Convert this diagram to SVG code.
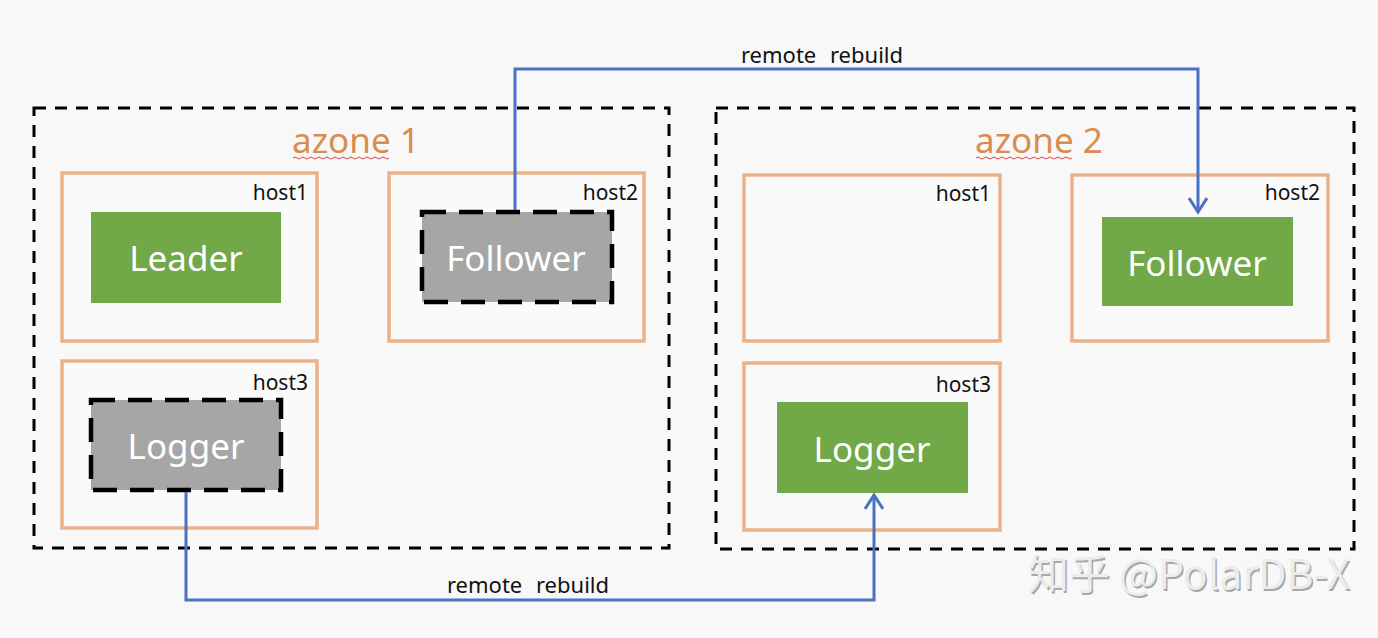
<svg xmlns="http://www.w3.org/2000/svg" width="1378" height="638" viewBox="0 0 1378 638">
<style>
.zone{fill:none;stroke:#000;stroke-width:3;stroke-dasharray:12 9}
.host{fill:#fafafa;stroke:#ebb28a;stroke-width:3.5}
.green{fill:#71a848}
.gray{fill:#a6a6a6;stroke:#000;stroke-width:4.5;stroke-dasharray:24 13}
.ntext{font-family:"Noto Sans","Open Sans",sans-serif;font-size:35px;fill:#fff;text-anchor:middle}
.hl{font-family:"Noto Sans","Open Sans",sans-serif;font-size:21px;fill:#111;text-anchor:end}
.zl{font-family:"Noto Sans","Open Sans",sans-serif;font-size:35px;fill:#d98c4e}
.lbl{font-family:"Noto Sans","Open Sans",sans-serif;font-size:22px;fill:#111;text-anchor:middle;word-spacing:8px}
.conn{fill:none;stroke:#4a71c2;stroke-width:3}
.sq{fill:none;stroke:#d44;stroke-width:1}
.wm{font-family:"Noto Sans CJK SC","Noto Sans",sans-serif;font-size:41px}
</style>
<defs>
<marker id="arr" viewBox="0 0 20 20" refX="17" refY="10" markerWidth="20" markerHeight="20" markerUnits="userSpaceOnUse" orient="auto">
<path d="M3,1 L17,10 L3,19" fill="none" stroke="#4a71c2" stroke-width="3"/>
</marker>
</defs>
<rect width="1378" height="638" fill="#f8f8f8"/>
<g id="azone1">
<rect class="zone" x="34" y="108" width="635" height="440"/>
<text class="zl" x="292" y="153">azone 1</text>
<path class="sq" d="M293,158 q2,-2 4,0 t4,0 t4,0 t4,0 t4,0 t4,0 t4,0 t4,0 t4,0 t4,0 t4,0 t4,0 t4,0 t4,0 t4,0 t4,0 t4,0 t4,0 t4,0 t4,0 t4,0 t4,0 t4,0 t4,0"/>
</g>
<g id="azone2">
<rect class="zone" x="716" y="108" width="638" height="441"/>
<text class="zl" x="975" y="153">azone 2</text>
<path class="sq" d="M976,158 q2,-2 4,0 t4,0 t4,0 t4,0 t4,0 t4,0 t4,0 t4,0 t4,0 t4,0 t4,0 t4,0 t4,0 t4,0 t4,0 t4,0 t4,0 t4,0 t4,0 t4,0 t4,0 t4,0 t4,0 t4,0"/>
</g>
<g id="az1-host1"><rect class="host" x="62" y="173" width="255" height="168"/><text class="hl" x="308" y="200">host1</text></g>
<g id="az1-host2"><rect class="host" x="389" y="173" width="255" height="168"/><text class="hl" x="638" y="200">host2</text></g>
<g id="az1-host3"><rect class="host" x="62" y="361" width="255" height="167"/><text class="hl" x="308" y="390">host3</text></g>
<g id="az2-host1"><rect class="host" x="744" y="175" width="256" height="166"/><text class="hl" x="991" y="201">host1</text></g>
<g id="az2-host2"><rect class="host" x="1072" y="175" width="256" height="166"/><text class="hl" x="1320" y="200">host2</text></g>
<g id="az2-host3"><rect class="host" x="744" y="363" width="256" height="167"/><text class="hl" x="991" y="392">host3</text></g>
<g id="leader"><rect class="green" x="91" y="212" width="190" height="91"/><text class="ntext" x="186" y="271">Leader</text></g>
<g id="follower1"><rect class="gray" x="422" y="212" width="190" height="90"/><text class="ntext" x="516" y="271">Follower</text></g>
<g id="logger1"><rect class="gray" x="91" y="400" width="190" height="90"/><text class="ntext" x="186" y="459">Logger</text></g>
<g id="follower2"><rect class="green" x="1102" y="217" width="191" height="89"/><text class="ntext" x="1197" y="276">Follower</text></g>
<g id="logger2"><rect class="green" x="777" y="402" width="191" height="91"/><text class="ntext" x="872" y="462">Logger</text></g>
<g id="connectors">
<path class="conn" d="M515,210 V69 H1198 V212" marker-end="url(#arr)"/>
<path class="conn" d="M186,492 V600 H874 V495" marker-end="url(#arr)"/>
<text class="lbl" x="822" y="63">remote rebuild</text>
<text class="lbl" x="528" y="593">remote rebuild</text>
</g>
<g id="watermark">
<text class="wm" x="1029.5" y="590.5" fill="#a8a8a8">知乎 @PolarDB-X</text>
<text class="wm" x="1028" y="589" fill="#ececec">知乎 @PolarDB-X</text>
</g>
</svg>
